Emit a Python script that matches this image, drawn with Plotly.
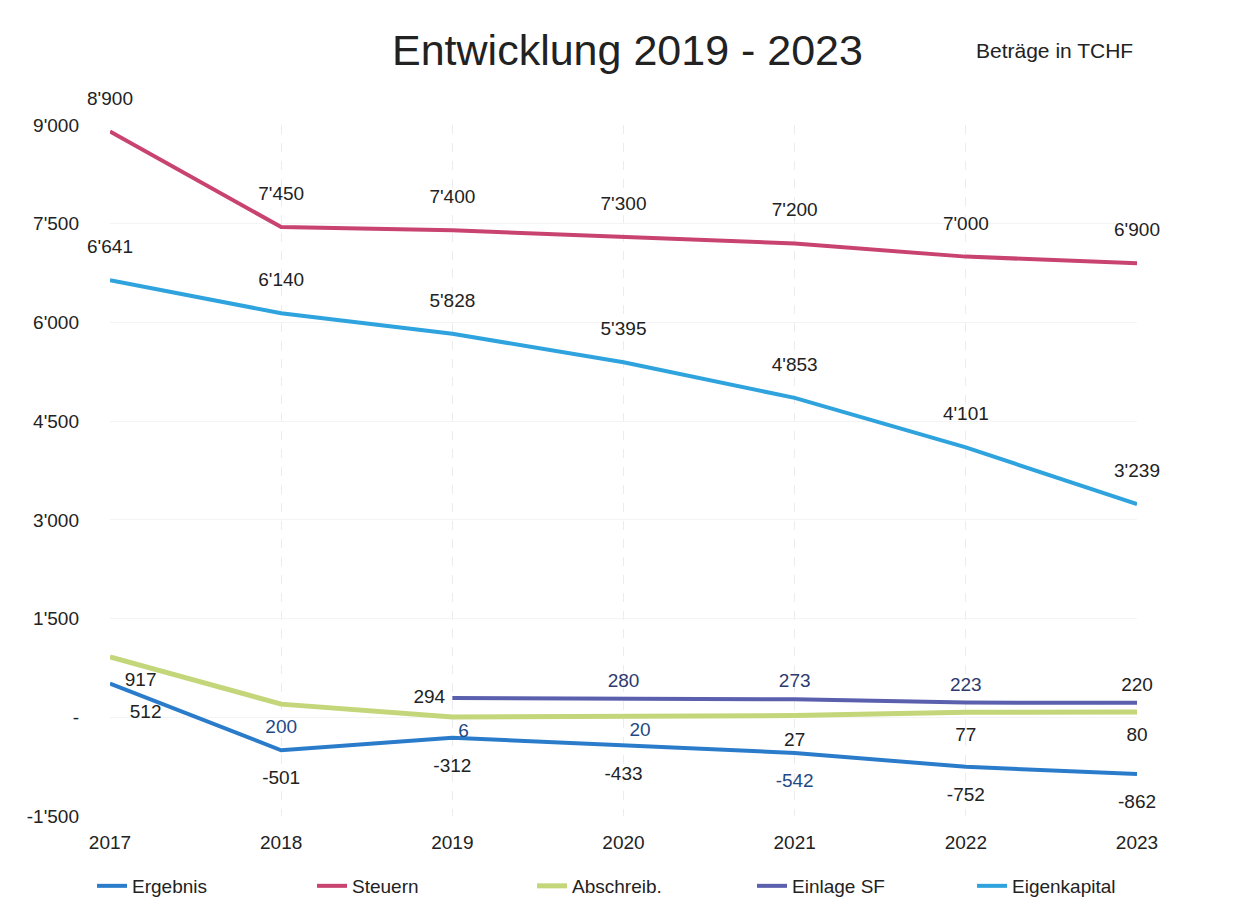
import plotly.graph_objects as go

years = [2017, 2018, 2019, 2020, 2021, 2022, 2023]
ergebnis = [512, -501, -312, -433, -542, -752, -862]
steuern = [8900, 7450, 7400, 7300, 7200, 7000, 6900]
abschreib = [917, 200, 6, 20, 27, 77, 80]
einlage_sf = [None, None, 294, 280, 273, 223, 220]
eigenkapital = [6641, 6140, 5828, 5395, 4853, 4101, 3239]

y_tickvals = [-1500, 0, 1500, 3000, 4500, 6000, 7500, 9000]
y_ticktext = ["-1'500", "-", "1'500", "3'000", "4'500", "6'000", "7'500", "9'000"]


def fmt(v):
    if v is None:
        return ""
    s = f"{abs(v):,}".replace(",", "'")
    return ("-" if v < 0 else "") + s


FONT = "Liberation Sans, Arial, sans-serif"
DARK = "#222222"
NAVY = "#1f4a86"

fig = go.Figure()


def add(name, ys, color, width, positions, msize, tcolors):
    fig.add_trace(go.Scatter(
        x=years, y=ys, name=name, mode="lines+markers+text",
        line=dict(color=color, width=width),
        marker=dict(size=msize, color="rgba(0,0,0,0)",
                    line=dict(width=0, color="rgba(0,0,0,0)")),
        text=[fmt(v) for v in ys],
        textposition=positions,
        textfont=dict(family=FONT, size=19, color=tcolors),
        cliponaxis=False,
        connectgaps=False,
    ))


add("Ergebnis", ergebnis, "#2a7ccb", 4,
    ["bottom right"] + ["bottom center"] * 6, 30,
    [DARK, DARK, DARK, DARK, NAVY, DARK, DARK])
add("Steuern", steuern, "#c8436f", 4,
    ["top center"] * 7, 34, DARK)
add("Abschreib.", abschreib, "#c3d679", 5,
    ["bottom right", "bottom center", "bottom right", "bottom right",
     "bottom center", "bottom center", "bottom center"],
    [22, 22, 8, 8, 24, 22, 22],
    [DARK, NAVY, NAVY, NAVY, DARK, DARK, DARK])
add("Einlage SF", einlage_sf, "#5a5fae", 4,
    ["middle left", "middle left", "middle left"] + ["top center"] * 4, 10,
    [DARK, DARK, DARK, "#2d3a6e", "#2d3a6e", "#2d3a6e", DARK])
add("Eigenkapital", eigenkapital, "#2ea3dd", 4,
    ["top center"] * 7, 34, DARK)

fig.update_layout(
    width=1244, height=908,
    margin=dict(l=102, r=115, t=117, b=99),
    paper_bgcolor="white", plot_bgcolor="white",
    font=dict(family=FONT, size=19, color=DARK),
    showlegend=True,
    legend=dict(orientation="h", x=-0.0175, xanchor="left", y=-0.0997, yanchor="middle",
                entrywidth=175, entrywidthmode="pixels",
                font=dict(family=FONT, size=19, color=DARK)),
    annotations=[
        dict(text="Entwicklung 2019 - 2023", x=0.504, y=1.108, xref="paper", yref="paper",
             showarrow=False, font=dict(family=FONT, size=43, color=DARK),
             xanchor="center", yanchor="middle"),
        dict(text="Beträge in TCHF", x=0.841, y=1.108, xref="paper", yref="paper",
             showarrow=False, font=dict(family=FONT, size=21, color=DARK),
             xanchor="left", yanchor="middle"),
    ],
    hovermode=False,
)

fig.update_xaxes(range=[2017, 2023], tickvals=years, ticktext=[str(y) for y in years],
                 showgrid=True, gridcolor="#ececec", griddash="dash", gridwidth=1,
                 zeroline=False, showline=False, ticklabelstandoff=13,
                 tickfont=dict(family=FONT, size=19, color=DARK))
fig.update_yaxes(range=[-1500, 9000], tickvals=y_tickvals, ticktext=y_ticktext,
                 showgrid=True, gridcolor="#f4f4f4", gridwidth=1,
                 zeroline=False, showline=False, ticklabelstandoff=30,
                 tickfont=dict(family=FONT, size=19, color=DARK))

fig.write_html("out.html")
